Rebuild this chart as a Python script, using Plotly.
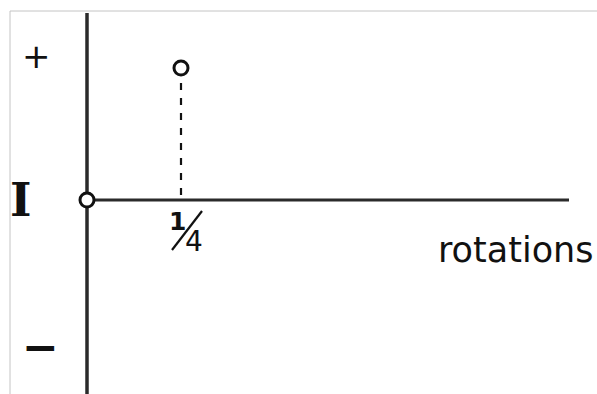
import plotly.graph_objects as go

# Sketch of a quantity I plotted against the number of rotations.
point_x = [0, 0.25]          # rotations
point_y = [0, 1]             # value of I (arbitrary units)
tick_num, tick_den = "1", "4"
x_title = "rotations"
y_title = "I"
y_pos_label = "+"
y_neg_label = "\u2212"

W, H = 597, 394
X0_PX, PX_PER_X = 87, 376
Y0_PX, PX_PER_Y = 200, 132


def dx(px):
    return (px - X0_PX) / PX_PER_X


def dy(py):
    return (Y0_PX - py) / PX_PER_Y


AXIS_COLOR = "#2b2b2b"
fig = go.Figure()

# vertical (I) axis
fig.add_trace(go.Scatter(x=[0, 0], y=[dy(13), dy(394)], mode="lines",
                         line=dict(color=AXIS_COLOR, width=3.5),
                         hoverinfo="skip", showlegend=False))
# horizontal (rotations) axis
fig.add_trace(go.Scatter(x=[0, dx(569)], y=[0, 0], mode="lines",
                         line=dict(color=AXIS_COLOR, width=3),
                         hoverinfo="skip", showlegend=False))
# drop line from the quarter-turn point
fig.add_trace(go.Scatter(x=[point_x[1], point_x[1]], y=[point_y[1], 0],
                         mode="lines",
                         line=dict(color="#111111", width=2.2, dash="7px,8px"),
                         hoverinfo="skip", showlegend=False))
# sample points
fig.add_trace(go.Scatter(x=point_x, y=point_y, mode="markers",
                         marker=dict(size=14, color="white",
                                     line=dict(color="#111111", width=3)),
                         showlegend=False))

# frame edge (top and left)
fig.add_shape(type="line", xref="paper", yref="paper",
              x0=10 / W, x1=1, y0=1 - 11 / H, y1=1 - 11 / H,
              line=dict(color="#c4c4c4", width=1))
fig.add_shape(type="line", xref="paper", yref="paper",
              x0=10 / W, x1=10 / W, y0=0, y1=1 - 11 / H,
              line=dict(color="#c4c4c4", width=1))

# fraction slash for the 1/4 tick
fig.add_shape(type="line", xref="x", yref="y",
              x0=dx(172), y0=dy(250), x1=dx(202), y1=dy(211),
              line=dict(color="#111111", width=2.2))

labels = [
    (y_pos_label, 36, 56, dict(family="DejaVu Sans", size=34)),
    (y_neg_label, 40, 346, dict(family="DejaVu Sans", size=44, weight="bold")),
    (y_title, 21, 200, dict(family="DejaVu Serif", size=46, weight="bold")),
    (tick_num, 177, 221, dict(family="DejaVu Sans", size=25, weight="bold")),
    (tick_den, 194, 241, dict(family="DejaVu Sans", size=28)),
    (x_title, 515, 250, dict(family="DejaVu Sans", size=35)),
]
for text, px, py, font in labels:
    fig.add_annotation(x=dx(px), y=dy(py), xref="x", yref="y", text=text,
                       showarrow=False, xanchor="center", yanchor="middle",
                       font=dict(color="#111111", **font))

fig.update_layout(
    width=W, height=H,
    margin=dict(l=0, r=0, t=0, b=0),
    paper_bgcolor="white", plot_bgcolor="white",
    xaxis=dict(range=[dx(0), dx(W)], visible=False, fixedrange=True),
    yaxis=dict(range=[dy(H), dy(0)], visible=False, fixedrange=True),
)

fig.write_html("out.html")
